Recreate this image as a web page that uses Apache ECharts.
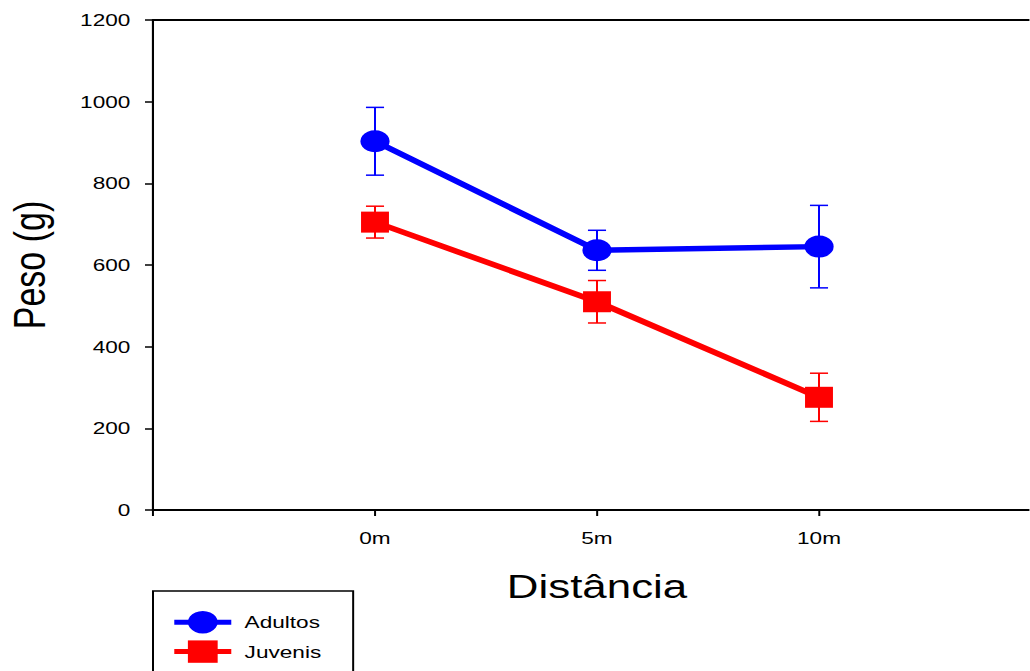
<!DOCTYPE html>
<html>
<head>
<meta charset="utf-8">
<script src="https://cdn.jsdelivr.net/npm/echarts@6/dist/echarts.min.js"></script>
<style>
html,body{margin:0;padding:0;background:#fff;overflow:hidden;width:1030px;height:671px;}
#chart{position:absolute;left:0;top:0;height:671px;transform-origin:0 0;}
</style>
</head>
<body>
<div id="chart"></div>
<script>
// Data
const categories = ['0m', '5m', '10m'];
const yTicks = [0, 200, 400, 600, 800, 1000, 1200];
const adultos = [903, 636, 645];
const adultosErr = [83, 49, 101];
const juvenis = [705, 510, 276];
const juvenisErr = [39, 52, 59];

// The reference is horizontally stretched; draw narrower and stretch with CSS.
const S = 1.33;
const W = 1030 / S;
const el = document.getElementById('chart');
el.style.width = W + 'px';
el.style.transform = 'scaleX(' + S + ')';

const FONT = '"Liberation Sans", Arial, Helvetica, sans-serif';
const chart = echarts.init(el, null, { renderer: 'svg', width: W, height: 671 });

function pairs(vals) { return vals.map((v, i) => [i, v]); }
function errData(vals, errs) { return vals.map((v, i) => [i, v - errs[i], v + errs[i]]); }

function errorBarSeries(vals, errs, color) {
  return {
    type: 'custom',
    z: 1,
    silent: true,
    data: errData(vals, errs),
    encode: { x: 0, y: [1, 2] },
    renderItem: function (params, api) {
      const x = api.value(0);
      const lo = api.coord([x, api.value(1)]);
      const hi = api.coord([x, api.value(2)]);
      const hw = 6.8;
      const style = { stroke: color, lineWidth: 1.5, fill: null };
      return {
        type: 'group',
        children: [
          { type: 'line', shape: { x1: lo[0], y1: lo[1], x2: hi[0], y2: hi[1] }, style: style },
          { type: 'line', shape: { x1: lo[0] - hw, y1: lo[1], x2: lo[0] + hw, y2: lo[1] }, style: style },
          { type: 'line', shape: { x1: hi[0] - hw, y1: hi[1], x2: hi[0] + hw, y2: hi[1] }, style: style }
        ]
      };
    }
  };
}

const gridLeft = 153 / S;
const unit = (375 - 153) / S; // px per category step (unscaled)

const option = {
  animation: false,
  backgroundColor: '#ffffff',
  grid: {
    left: gridLeft, width: 4 * unit, top: 20, height: 490,
    containLabel: false, outerBoundsMode: 'none'
  },
  legend: {
    orient: 'vertical',
    left: 153 / S,
    top: 591,
    height: 200,
    data: ['Adultos', 'Juvenis'],
    itemWidth: 57 / S,
    itemHeight: 28,
    itemGap: 7,
    padding: [20, 24, 40, 13.5],
    borderColor: '#000',
    borderWidth: 1.5,
    lineStyle: { width: 5 },
    textStyle: { fontFamily: FONT, fontSize: 17, color: '#000', padding: [0, 0, 0, 5] }
  },
  xAxis: [
    {
      type: 'value',
      min: -1,
      max: 3,
      interval: 1,
      position: 'bottom',
      name: 'Distância',
      nameLocation: 'middle',
      nameGap: 60,
      nameTextStyle: { fontFamily: FONT, fontSize: 33, color: '#000' },
      axisLine: { show: true, onZero: false, lineStyle: { color: '#000', width: 2 } },
      axisTick: { show: true, length: 6, lineStyle: { color: '#000', width: 1.5 } },
      axisLabel: {
        margin: 20,
        fontFamily: FONT, fontSize: 17, color: '#000',
        formatter: function (v) { return categories[v] !== undefined ? categories[v] : ''; }
      },
      splitLine: { show: false }
    },
    {
      type: 'value',
      min: -1,
      max: 3,
      position: 'top',
      axisLine: { show: true, onZero: false, lineStyle: { color: '#000', width: 2 } },
      axisTick: { show: false },
      axisLabel: { show: false },
      splitLine: { show: false }
    }
  ],
  yAxis: {
    type: 'value',
    min: yTicks[0],
    max: yTicks[yTicks.length - 1],
    interval: yTicks[1] - yTicks[0],
    name: 'Peso (g)',
    nameLocation: 'middle',
    nameGap: 76,
    nameTextStyle: { fontFamily: FONT, fontSize: 34, color: '#000' },
    axisLine: { show: true, onZero: false, lineStyle: { color: '#000', width: 1.6 } },
    axisTick: { show: true, length: 8 / S, lineStyle: { color: '#000', width: 1.5 } },
    axisLabel: {
      margin: 17, fontFamily: FONT, fontSize: 17, color: '#000',
      formatter: function (v) { return String(v); }
    },
    splitLine: { show: false }
  },
  series: [
    errorBarSeries(adultos, adultosErr, '#0000ff'),
    errorBarSeries(juvenis, juvenisErr, '#ff0000'),
    {
      name: 'Adultos',
      type: 'line',
      z: 3,
      data: pairs(adultos),
      symbol: 'circle',
      symbolSize: 22,
      lineStyle: { color: '#0000ff', width: 5.5 },
      itemStyle: { color: '#0000ff' }
    },
    {
      name: 'Juvenis',
      type: 'line',
      z: 3,
      data: pairs(juvenis),
      symbol: 'rect',
      symbolSize: 21,
      lineStyle: { color: '#ff0000', width: 5.5 },
      itemStyle: { color: '#ff0000' }
    }
  ]
};
chart.setOption(option);
</script>
</body>
</html>
